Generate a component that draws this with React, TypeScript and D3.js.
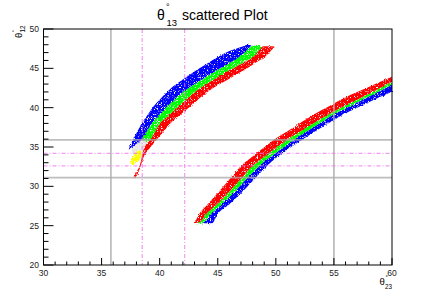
import React from 'react';
import * as d3 from 'd3';

// ---- data (theta23 vs theta12, degrees) ----
// upper branch, each colour as a band: x, lower edge, upper edge
const blueUpX = [37.3, 37.7, 38.0, 38.5, 39.0, 39.5, 40.0, 40.5, 41.0, 42.0, 43.0, 44.0, 45.0, 46.0, 47.0, 47.6, 47.9];
const blueUpLo = [34.6, 35.05, 35.38, 36.02, 37.26, 38.33, 39.14, 39.96, 40.65, 41.98, 42.99, 43.9, 44.81, 45.69, 46.62, 47.47, 47.9];
const blueUpHi = [34.6, 35.9, 36.74, 38.1, 39.17, 40.2, 41.02, 41.8, 42.5, 43.57, 44.6, 45.52, 46.44, 47.19, 47.7, 48.0, 47.9];

const greenUpX = [38.45, 38.7, 39.0, 39.5, 40.0, 40.5, 41.0, 42.0, 43.0, 44.0, 45.0, 46.0, 47.0, 47.6, 48.0, 48.5, 48.8];
const greenUpLo = [35.95, 35.75, 35.7, 36.7, 38.0, 38.66, 39.33, 40.65, 41.98, 42.99, 43.9, 44.78, 45.59, 46.08, 46.4, 47.2, 47.75];
const greenUpHi = [35.95, 36.6, 37.26, 38.33, 39.14, 39.96, 40.65, 41.98, 42.99, 43.9, 44.81, 45.69, 46.62, 47.47, 47.85, 47.9, 47.8];

const redUpX = [37.7, 38.0, 38.3, 38.7, 39.0, 39.5, 40.0, 40.5, 41.0, 42.0, 43.0, 44.0, 45.0, 46.0, 47.0, 48.0, 48.5, 48.8, 49.0, 49.5, 49.9];
const redUpLo = [31.0, 31.3, 32.3, 34.0, 34.6, 35.5, 36.4, 37.3, 38.1, 39.37, 40.62, 41.87, 42.84, 43.69, 44.55, 45.47, 45.93, 46.2, 46.39, 47.1, 47.75];
const redUpHi = [31.0, 31.8, 32.7, 35.0, 35.6, 36.7, 38.0, 38.66, 39.33, 40.65, 41.98, 42.99, 43.9, 44.78, 45.59, 46.4, 47.2, 47.75, 47.8, 47.8, 47.75];

// faint grey cloud and the yellow blob at the foot of the upper branch
const greyX = [37.6, 38.0, 38.5, 39.0];
const greyLo = [34.4, 33.6, 33.5, 35.0];
const greyHi = [34.8, 35.3, 35.9, 35.6];

const yellowX = [37.45, 37.7, 38.0, 38.3, 38.45];
const yellowLo = [33.0, 32.7, 33.0, 33.5, 34.0];
const yellowHi = [33.2, 33.9, 34.4, 34.6, 34.3];

// lower branch: shared x grid, four edges (red top -> blue bottom)
const lowX = [43.0, 43.5, 44.0, 44.5, 45.0, 46.0, 47.0, 48.0, 49.0, 50.0, 51.0, 52.0, 53.0, 54.0, 55.0, 56.0, 57.0, 58.0, 59.0, 60.0];
const lowRedTop = [25.3, 26.69, 27.5, 28.32, 29.16, 30.87, 32.59, 33.79, 34.96, 36.08, 37.01, 37.95, 38.88, 39.72, 40.54, 41.32, 41.98, 42.63, 43.29, 43.94];
const lowRedGreen = [25.3, 25.5, 26.49, 27.15, 27.82, 29.31, 30.96, 32.61, 33.75, 34.86, 35.95, 36.87, 37.79, 38.7, 39.52, 40.26, 41.0, 41.77, 42.53, 43.3];
const lowGreenBlue = [25.3, 25.3, 25.7, 26.63, 27.29, 28.64, 30.2, 31.77, 33.15, 34.24, 35.34, 36.36, 37.29, 38.23, 39.15, 39.9, 40.66, 41.41, 42.16, 42.9];
const lowBlueBot = [25.3, 25.3, 25.3, 25.3, 26.48, 27.73, 29.11, 30.68, 32.24, 33.59, 34.69, 35.67, 36.62, 37.53, 38.43, 39.28, 39.99, 40.7, 41.38, 42.03];

// reference lines
const greyVLines = [35.8, 55];
const greyHLines = [35.9, 31.1];
const pinkVLines = [38.5, 42.15];
const pinkHLines = [34.2, 32.6];

const xTicks = [30, 35, 40, 45, 50, 55, 60];
const yTicks = [20, 25, 30, 35, 40, 45, 50];

const W = 436;
const H = 295;
const L = 43.5, R = 392, T = 29, B = 265;

type Pt = { x: number; lo: number; hi: number };
const zip = (xs: number[], lo: number[], hi: number[]): Pt[] =>
  xs.map((x, i) => ({ x, lo: lo[i], hi: hi[i] }));

const App: React.FC = () => {
  const x = d3.scaleLinear().domain([30, 60]).range([L, R]);
  const y = d3.scaleLinear().domain([20, 50]).range([B, T]);

  const area = d3.area<Pt>()
    .x(d => x(d.x))
    .y0(d => y(d.lo))
    .y1(d => y(d.hi))
    .curve(d3.curveMonotoneX);

  const bands = [
    { c: '#e6e6e6', d: zip(greyX, greyLo, greyHi) },
    { c: '#ffff00', d: zip(yellowX, yellowLo, yellowHi) },
    { c: '#ff0000', d: zip(redUpX, redUpLo, redUpHi) },
    { c: '#00ff00', d: zip(greenUpX, greenUpLo, greenUpHi) },
    { c: '#0000ff', d: zip(blueUpX, blueUpLo, blueUpHi) },
    { c: '#0000ff', d: zip(lowX, lowBlueBot, lowGreenBlue) },
    { c: '#00ff00', d: zip(lowX, lowGreenBlue, lowRedGreen) },
    { c: '#ff0000', d: zip(lowX, lowRedGreen, lowRedTop) },
  ];

  const minorX = d3.range(30, 61, 1).filter(v => v % 5 !== 0);
  const minorY = d3.range(20, 51, 1).filter(v => v % 5 !== 0);
  const font = 'Liberation Sans, Arial, sans-serif';

  return (
    <svg width={W} height={H} style={{ position: 'fixed', left: 0, top: 0, background: '#fff' }} fontFamily={font}>
      <defs>
        <filter id="speckle" x="-10%" y="-10%" width="120%" height="120%">
          <feTurbulence type="fractalNoise" baseFrequency="0.9" numOctaves="1" seed="4" result="n" />
          <feDisplacementMap in="SourceGraphic" in2="n" scale="3" xChannelSelector="R" yChannelSelector="G" result="disp" />
          <feTurbulence type="fractalNoise" baseFrequency="1.3" numOctaves="1" seed="9" result="n2" />
          <feColorMatrix in="n2" type="matrix"
            values="0 0 0 0 0  0 0 0 0 0  0 0 0 0 0  -7 0 0 0 5" result="mask" />
          <feComposite in="disp" in2="mask" operator="in" />
        </filter>
      </defs>
      <rect width={W} height={H} fill="#fff" />

      {/* scatter bands */}
      <g filter="url(#speckle)">
        {bands.map((b, i) => (
          <path key={i} d={area(b.d) || ''} fill={b.c} />
        ))}
      </g>

      {/* reference lines */}
      {greyVLines.map(v => (
        <line key={'gv' + v} x1={x(v)} x2={x(v)} y1={T} y2={B} stroke="#a8a8a8" strokeOpacity={0.75} strokeWidth={1.8} />
      ))}
      {greyHLines.map(v => (
        <line key={'gh' + v} x1={L} x2={R} y1={y(v)} y2={y(v)} stroke="#a8a8a8" strokeOpacity={0.75} strokeWidth={1.8} />
      ))}
      {pinkVLines.map(v => (
        <line key={'pv' + v} x1={x(v)} x2={x(v)} y1={T} y2={B} stroke="#f070f0" strokeOpacity={0.7} strokeWidth={1.2} strokeDasharray="4 2 1 2" />
      ))}
      {pinkHLines.map(v => (
        <line key={'ph' + v} x1={L} x2={R} y1={y(v)} y2={y(v)} stroke="#f070f0" strokeOpacity={0.7} strokeWidth={1.2} strokeDasharray="4 2 1 2" />
      ))}

      {/* frame and ticks */}
      <rect x={L} y={T} width={R - L} height={B - T} fill="none" stroke="#000" strokeWidth={1} />
      {xTicks.map(v => (
        <line key={'xt' + v} x1={x(v)} x2={x(v)} y1={B} y2={B - 7} stroke="#000" />
      ))}
      {minorX.map(v => (
        <line key={'xm' + v} x1={x(v)} x2={x(v)} y1={B} y2={B - 3.5} stroke="#000" />
      ))}
      {yTicks.map(v => (
        <line key={'yt' + v} x1={L} x2={L + 10} y1={y(v)} y2={y(v)} stroke="#000" />
      ))}
      {minorY.map(v => (
        <line key={'ym' + v} x1={L} x2={L + 5} y1={y(v)} y2={y(v)} stroke="#000" />
      ))}

      {/* tick labels */}
      {xTicks.map(v => (
        <text key={'xl' + v} x={x(v)} y={B + 10.5} fontSize={8.5} textAnchor="middle" fill="#222">{v}</text>
      ))}
      {yTicks.map(v => (
        <text key={'yl' + v} x={L - 4.5} y={y(v) + 3} fontSize={8.5} textAnchor="end" fill="#222">{v}</text>
      ))}

      {/* title */}
      <text x={157} y={20} fontSize={14}>θ</text>
      <text x={166} y={10} fontSize={9}>°</text>
      <text x={166.5} y={25.5} fontSize={9.5}>13</text>
      <text x={182} y={20} fontSize={14}>scattered Plot</text>

      {/* x axis title */}
      <text x={379.5} y={285} fontSize={9.5}>θ</text>
      <text x={385.5} y={279} fontSize={6}>°</text>
      <text x={385} y={288.5} fontSize={6.3}>23</text>

      {/* y axis title */}
      <g transform="translate(21.5,38) rotate(-90)">
        <text x={0} y={0} fontSize={9.5}>θ</text>
        <text x={5.8} y={-6} fontSize={6}>°</text>
        <text x={5.5} y={3.5} fontSize={6.3}>12</text>
      </g>
    </svg>
  );
};

export default App;
